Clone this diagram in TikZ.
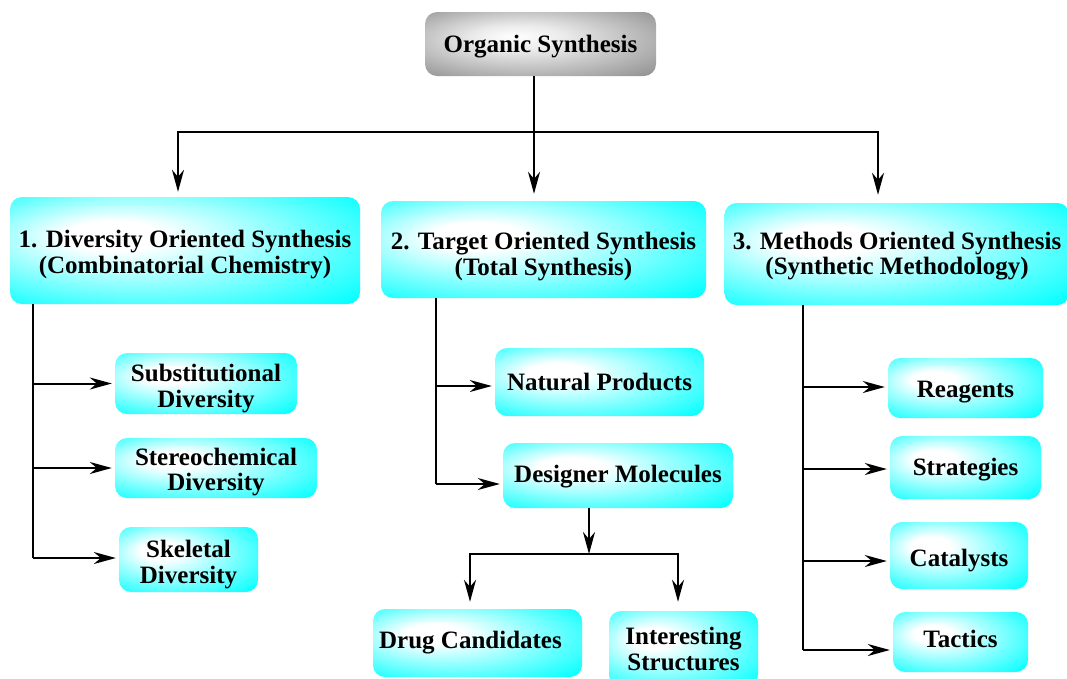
\documentclass[tikz,border=0pt]{standalone}
\usepackage{fontspec}
\setmainfont{Liberation Serif}
\usetikzlibrary{arrows.meta}
\pgfdeclareradialshading{cyanglow}{\pgfpoint{-12bp}{8bp}}{color(0bp)=(white); color(7bp)=(white); color(38bp)=(cyan); color(50bp)=(cyan)}
\pgfdeclareradialshading{grayglow}{\pgfpoint{-6bp}{6bp}}{color(0bp)=(white); color(10bp)=(white!92!black); color(42bp)=(black!50); color(50bp)=(black!55)}
\newcommand{\dn}[2]{\raisebox{-#1}[\height][\depth]{#2}}
\tikzset{
  boxbase/.style={rectangle, rounded corners=12pt, inner sep=0pt, align=center,
    font=\bfseries\fontsize{25}{25.5}\selectfont},
  cbox/.style={boxbase, shade, shading=cyanglow},
  gbox/.style={boxbase, shade, shading=grayglow},
  conn/.style={line width=2pt, black},
  arrtip/.tip={Stealth[length=22pt,width=12pt,inset=7pt]},
  arr/.style={conn, -arrtip, shorten >=3pt},
}
\begin{document}
\begin{tikzpicture}[x=1pt,y=-1pt]
\useasboundingbox (0,0) rectangle (1067,678);
% nodes
\node[gbox, minimum width=231pt, minimum height=64pt] (top) at (540.5,44) {\dn{3pt}{Organic Synthesis}};
\node[cbox, minimum width=350pt, minimum height=107pt] (dos) at (185,250.5) {\dn{4pt}{1. Diversity Oriented Synthesis}\\\dn{4pt}{(Combinatorial Chemistry)}};
\node[cbox, minimum width=325pt, minimum height=97pt] (tos) at (543.5,249.5) {\dn{7pt}{2. Target Oriented Synthesis}\\\dn{7pt}{(Total Synthesis)}};
\node[cbox, minimum width=345pt, minimum height=102pt] (mos) at (897,254) {\dn{2pt}{3. Methods Oriented Synthesis}\\\dn{2pt}{(Synthetic Methodology)}};
\node[cbox, minimum width=182pt, minimum height=61pt] (subst) at (206,383.5) {\dn{5pt}{Substitutional}\\\dn{5pt}{Diversity}};
\node[cbox, minimum width=202pt, minimum height=60pt] (stereo) at (216,468) {\dn{4pt}{Stereochemical}\\\dn{4pt}{Diversity}};
\node[cbox, minimum width=139pt, minimum height=65pt] (skel) at (188.5,559.5) {\dn{5pt}{Skeletal}\\\dn{5pt}{Diversity}};
\node[cbox, minimum width=209pt, minimum height=68pt] (natural) at (599.5,382) {Natural Products};
\node[cbox, minimum width=230pt, minimum height=65pt] (design) at (618,475.5) {\dn{1pt}{Designer Molecules}};
\node[cbox, minimum width=209pt, minimum height=68pt] (drug) at (477.5,643) {\kern-7pt Drug Candidates\kern7pt};
\node[cbox, minimum width=149pt, minimum height=76pt] (interest) at (683.5,649) {Interesting\\Structures};
\node[cbox, minimum width=155pt, minimum height=60pt] (reag) at (965.5,388) {\dn{4pt}{Reagents}};
\node[cbox, minimum width=151pt, minimum height=63pt] (strat) at (965.5,467.5) {\dn{2pt}{Strategies}};
\node[cbox, minimum width=138pt, minimum height=67pt] (cat) at (959,555.5) {\dn{5pt}{Catalysts}};
\node[cbox, minimum width=135pt, minimum height=60pt] (tact) at (960.5,642) {\dn{-3pt}{Tactics}};
% coordinates
\coordinate (hub) at (534,132);
\coordinate (hubL) at (178,132);
\coordinate (hubR) at (878,132);
\coordinate (L) at (33,0);
\coordinate (M) at (436,0);
\coordinate (R) at (803,0);
\coordinate (J) at (589,554);
\coordinate (J1) at (470,554);
\coordinate (J2) at (678,554);
% top level
\draw[conn] (top.south -| hub) -- (hub);
\draw[conn] ([xshift=-1pt]hubL) -- ([xshift=1pt]hubR);
\draw[arr, shorten >=7pt] (hub) -- (tos.north -| hub);
\draw[arr, shorten >=5pt] (hubL) -- (dos.north -| hubL);
\draw[arr, shorten >=8pt] (hubR) -- (mos.north -| hubR);
% left branch
\draw[conn] (dos.south -| L) -- ([yshift=1.5pt]skel.west -| L);
\draw[arr] (subst.west -| L) -- (subst.west);
\draw[arr] (stereo.west -| L) -- (stereo.west);
\draw[arr] ([yshift=1.5pt]skel.west -| L) -- ([yshift=1.5pt]skel.west);
% middle branch
\draw[conn] (tos.south -| M) -- ([yshift=-8.5pt]design.west -| M);
\draw[arr] ([yshift=-4pt]natural.west -| M) -- ([yshift=-4pt]natural.west);
\draw[arr] ([yshift=-8.5pt]design.west -| M) -- ([yshift=-8.5pt]design.west);
\draw[arr, shorten >=0pt] (design.south -| J) -- (J);
\draw[conn] ([xshift=-1pt]J1) -- ([xshift=1pt]J2);
\draw[arr, shorten >=7pt] (J1) -- (drug.north -| J1);
\draw[arr, shorten >=9pt] (J2) -- (interest.north -| J2);
% right branch
\draw[conn] (mos.south -| R) -- ([yshift=-8pt]tact.west -| R);
\draw[arr] ([yshift=1pt]reag.west -| R) -- ([yshift=1pt]reag.west);
\draw[arr] ([yshift=-1.5pt]strat.west -| R) -- ([yshift=-1.5pt]strat.west);
\draw[arr] ([yshift=-5.5pt]cat.west -| R) -- ([yshift=-5.5pt]cat.west);
\draw[arr] ([yshift=-8pt]tact.west -| R) -- ([yshift=-8pt]tact.west);
\end{tikzpicture}
\end{document}
